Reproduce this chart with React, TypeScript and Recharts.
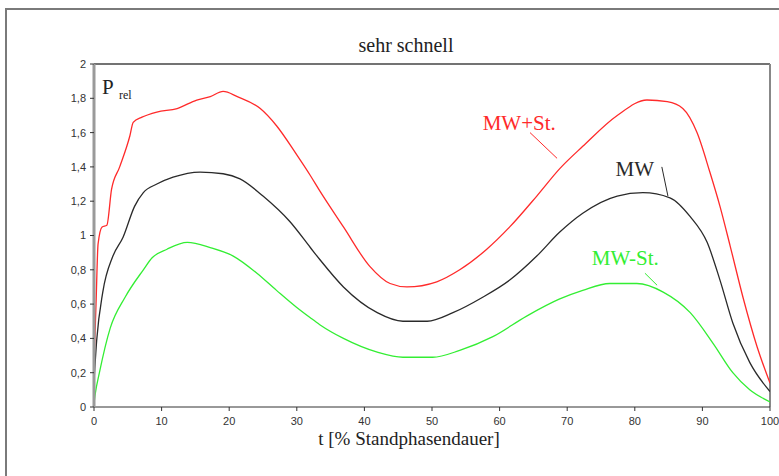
import React from 'react';
import { LineChart, Line, XAxis, YAxis, ReferenceLine, ReferenceDot, Customized } from 'recharts';

// MW+St. (Mittelwert + Standardabweichung)
const plusT = [0, 0.3, 0.6, 1.2, 1.9, 2.6, 3.8, 5.3, 5.8, 7.1, 9.3, 12.3, 15.2, 17.2, 19.1, 21.2, 24.6, 27, 30, 32, 33.4, 36.9, 40.8, 43.8, 46.3, 50.7, 54.1, 58.1, 61.5, 65.5, 68.9, 72.3, 77.4, 81.8, 84.8, 87.1, 89.2, 91.1, 92.6, 94.1, 96, 98.1, 100];
const plusV = [0.25, 0.6, 0.95, 1.05, 1.06, 1.27, 1.4, 1.58, 1.66, 1.69, 1.72, 1.74, 1.79, 1.81, 1.84, 1.81, 1.74, 1.64, 1.47, 1.35, 1.26, 1.05, 0.82, 0.72, 0.7, 0.73, 0.8, 0.92, 1.05, 1.23, 1.39, 1.52, 1.7, 1.79, 1.78, 1.74, 1.6, 1.37, 1.17, 0.94, 0.64, 0.35, 0.14];

// MW (Mittelwert)
const meanT = [0, 0.4, 1.3, 2.8, 4.3, 6, 7.3, 9.3, 11.7, 15.7, 19.1, 21.6, 25, 29, 32, 33.4, 36.9, 41.9, 45.7, 49.3, 53.1, 57.5, 61.5, 65.5, 68.9, 72.3, 77.4, 81.2, 85.2, 88.2, 90.7, 92.6, 94.5, 97, 100];
const meanV = [0.15, 0.39, 0.67, 0.88, 0.99, 1.17, 1.25, 1.3, 1.34, 1.37, 1.36, 1.33, 1.23, 1.08, 0.93, 0.86, 0.7, 0.55, 0.5, 0.5, 0.55, 0.64, 0.74, 0.88, 1.02, 1.13, 1.23, 1.25, 1.22, 1.11, 0.96, 0.74, 0.49, 0.26, 0.09];

// MW-St. (Mittelwert - Standardabweichung)
const minusT = [0, 0.2, 0.8, 2.4, 4.6, 7.3, 8.6, 10.8, 13.8, 17.2, 20.6, 24.1, 27, 30, 32, 33.4, 36.9, 41.9, 45.7, 50.1, 54.1, 59, 64, 68.9, 72.3, 76.3, 80.3, 84.2, 88.2, 91.6, 94.5, 97, 100];
const minusV = [0.02, 0.08, 0.2, 0.46, 0.64, 0.8, 0.87, 0.92, 0.96, 0.93, 0.88, 0.78, 0.68, 0.58, 0.52, 0.48, 0.4, 0.32, 0.29, 0.29, 0.33, 0.41, 0.53, 0.63, 0.68, 0.72, 0.72, 0.67, 0.55, 0.37, 0.2, 0.1, 0.03];

const xTicks = [0, 10, 20, 30, 40, 50, 60, 70, 80, 90, 100];
const yTicks = [0, 0.2, 0.4, 0.6, 0.8, 1, 1.2, 1.4, 1.6, 1.8, 2];
const yTickLabels = ['0', '0,2', '0,4', '0,6', '0,8', '1', '1,2', '1,4', '1,6', '1,8', '2'];

const title = 'sehr schnell';
const xTitle = 't [% Standphasendauer]';

const plusData = plusT.map((t, i) => ({ t, v: plusV[i] }));
const meanData = meanT.map((t, i) => ({ t, v: meanV[i] }));
const minusData = minusT.map((t, i) => ({ t, v: minusV[i] }));

const RED = '#ff2a2a';
const BLACK = '#2a2a2a';
const GREEN = '#33ee33';

const SERIF = 'Liberation Serif';
const SANS = 'Liberation Sans';

const fmtY = (v: number) => yTickLabels[yTicks.indexOf(v)] ?? String(v);

const Texts = () => (
  <g>
    <text x={406} y={52} textAnchor="middle" style={{ fontFamily: SERIF, fontSize: 20 }} fill="#222">{title}</text>
    <text x={409} y={445} textAnchor="middle" style={{ fontFamily: SERIF, fontSize: 19 }} fill="#222">{xTitle}</text>
    <text x={102} y={94} style={{ fontFamily: SERIF, fontSize: 21 }} fill="#222">P</text>
    <text x={119} y={99} style={{ fontFamily: SERIF, fontSize: 12 }} fill="#222">rel</text>
  </g>
);

export default function App() {
  return (
    <div style={{ position: 'absolute', left: 0, top: 0, width: 779, height: 476, overflow: 'hidden', background: '#fff' }}>
      <div style={{ position: 'absolute', left: 5, top: 8, width: 800, height: 500, border: '2px solid #7a7a7a', boxSizing: 'border-box' }} />
      <div style={{ position: 'absolute', left: 0, top: 0 }}>
        <LineChart width={779} height={476} margin={{ top: 64, right: 9, bottom: 39, left: 34 }}>
          <XAxis
            type="number"
            dataKey="t"
            domain={[0, 100]}
            ticks={xTicks}
            allowDataOverflow
            height={30}
            axisLine={{ stroke: '#333', strokeWidth: 1 }}
            tickLine={{ stroke: '#333' }}
            tickSize={4}
            tickMargin={6}
            tick={{ fontSize: 11, fontFamily: SANS, fill: '#333' }}
          />
          <YAxis
            type="number"
            dataKey="v"
            domain={[0, 2]}
            ticks={yTicks}
            allowDataOverflow
            width={60}
            axisLine={{ stroke: '#9a9a9a', strokeWidth: 3 }}
            tickLine={{ stroke: '#333' }}
            tickSize={4}
            tickMargin={4}
            tickFormatter={fmtY}
            tick={{ fontSize: 11, fontFamily: SANS, fill: '#333' }}
          />
          <ReferenceLine y={2} stroke="#444" strokeWidth={1.5} />
          <ReferenceLine x={100} stroke="#888" strokeWidth={2} />
          <Line data={plusData} dataKey="v" type="monotone" stroke={RED} strokeWidth={1.3} dot={false} isAnimationActive={false} />
          <Line data={meanData} dataKey="v" type="monotone" stroke={BLACK} strokeWidth={1.3} dot={false} isAnimationActive={false} />
          <Line data={minusData} dataKey="v" type="monotone" stroke={GREEN} strokeWidth={1.3} dot={false} isAnimationActive={false} />
          <ReferenceLine segment={[{ x: 64.5, y: 1.6 }, { x: 68.5, y: 1.45 }]} stroke={RED} strokeWidth={1} />
          <ReferenceLine segment={[{ x: 84.0, y: 1.4 }, { x: 84.9, y: 1.23 }]} stroke={BLACK} strokeWidth={1} />
          <ReferenceLine segment={[{ x: 81.5, y: 0.78 }, { x: 83.3, y: 0.71 }]} stroke={GREEN} strokeWidth={1} />
          <ReferenceDot x={62.9} y={1.66} r={0} stroke="none" fill="none"
            label={{ value: 'MW+St.', position: 'center', fill: RED, style: { fontFamily: SERIF, fontSize: 21 } }} />
          <ReferenceDot x={80.0} y={1.39} r={0} stroke="none" fill="none"
            label={{ value: 'MW', position: 'center', fill: BLACK, style: { fontFamily: SERIF, fontSize: 21 } }} />
          <ReferenceDot x={78.6} y={0.87} r={0} stroke="none" fill="none"
            label={{ value: 'MW-St.', position: 'center', fill: GREEN, style: { fontFamily: SERIF, fontSize: 21 } }} />
          <Customized component={Texts} />
        </LineChart>
      </div>
    </div>
  );
}
